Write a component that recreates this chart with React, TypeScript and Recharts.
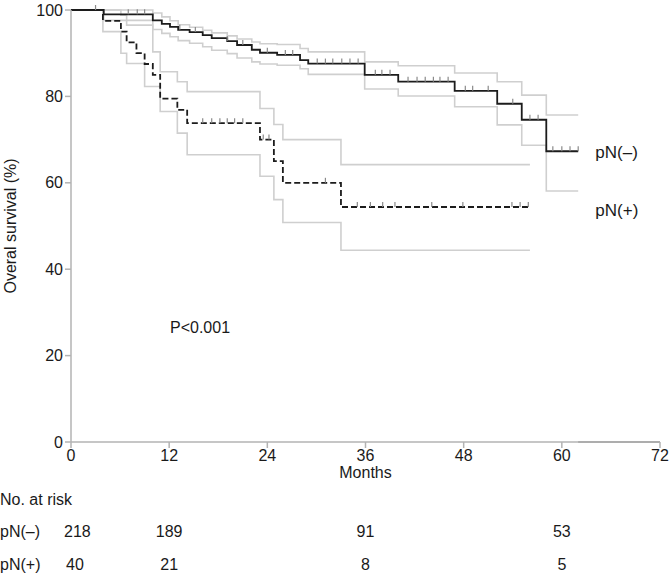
import React from "react";
import {
  ComposedChart,
  Line,
  Scatter,
  XAxis,
  YAxis,
  ReferenceDot,
  ReferenceLine
} from "recharts";

const monthTicks = [0, 12, 24, 36, 48, 60, 72];
const survivalTicks = [0, 20, 40, 60, 80, 100];

// pN(-) Kaplan-Meier curve with 95% CI
const negTimes = [0, 4, 10, 11.1, 12.1, 13.1, 14.5, 16.1, 17.2, 19.1, 20.3, 22.1, 23.1, 25.2, 28, 29, 35.9, 40, 46.9, 52.1, 55.1, 58.1, 62];
const negSurvival = [100, 99.0, 97.6, 96.8, 96.1, 95.4, 94.9, 94.2, 93.5, 92.8, 91.9, 90.8, 90.1, 89.6, 88.4, 87.6, 85.0, 83.4, 81.3, 78.3, 74.6, 67.3, 67.3];
const negUpper = [100, 100, 99.3, 98.4, 97.5, 96.6, 96.0, 95.3, 94.7, 94.0, 93.3, 92.6, 92.2, 92.0, 91.1, 90.3, 88.0, 87.1, 85.4, 83.4, 80.3, 75.7, 75.7];
const negLower = [100, 97.6, 95.5, 94.6, 93.8, 92.9, 92.3, 91.5, 90.7, 89.9, 88.9, 88.0, 87.5, 87.2, 86.4, 85.1, 81.7, 80.1, 77.6, 73.4, 68.7, 58.1, 58.1];
const negCensored = [3, 7, 8.1, 9, 13.3, 15.2, 19.1, 21, 24, 26.2, 27.1, 30.1, 31.1, 32, 33.1, 34.1, 35.1, 37.2, 38, 39, 41.2, 42.3, 43.3, 44.3, 45.1, 46.1, 48.2, 49.1, 51, 54, 56.1, 57.1, 58.9, 60, 61, 62];

// pN(+) Kaplan-Meier curve with 95% CI
const posTimes = [0, 3.9, 6.1, 6.8, 8.0, 9.0, 10.0, 10.9, 13.0, 14.2, 23.1, 24.8, 25.9, 33.0, 56.1];
const posSurvival = [100, 97.5, 95, 92.5, 90, 87.5, 85, 79.5, 76.9, 73.8, 70, 65, 60, 54.4, 54.4];
const posUpper = [100, 100, 98.8, 96.5, 96.5, 96.5, 90.3, 85.7, 83.4, 81.1, 77.2, 73.5, 70.0, 64.2, 64.2];
const posLower = [100, 95, 90, 87.6, 87.6, 82.3, 82.3, 76.5, 71.5, 66.5, 61.5, 56.1, 50.8, 44.4, 44.4];
const posCensored = [16.1, 17.2, 18.2, 19.1, 20, 21, 23.5, 24.2, 31.1, 35, 36.6, 38.1, 39.6, 44.1, 47.9, 53.9, 54.9, 55.9];

// number at risk
const riskTimes = [0, 12, 36, 60];
const riskNeg = [218, 189, 91, 53];
const riskPos = [40, 21, 8, 5];
const groupLabels = ["pN(–)", "pN(+)"];

// y levels (in survival units, below the axis) for the at-risk table
const ROW_HEAD = -13.4;
const ROW_NEG = -20.7;
const ROW_POS = -28.4;
const LEFT_EDGE = -8.68;

const FONT = "'Liberation Sans', Arial, Helvetica, sans-serif";
const TEXT = "#1a1a1a";
const AXIS = "#b3b3b3";
const CI = "#cfcfcf";

function toSteps(times: number[], values: number[]) {
  return times.map((t, i) => ({ t, s: values[i] }));
}

function censorPoints(times: number[], values: number[], censored: number[]) {
  return censored.map((c) => {
    let idx = 0;
    times.forEach((t, i) => {
      if (t <= c) idx = i;
    });
    return { t: c, s: values[idx] };
  });
}

const CensorTick = (p: any) => (
  <line x1={p.cx} x2={p.cx} y1={p.cy} y2={p.cy - 5} stroke="#8a8a8a" strokeWidth={1.2} />
);

function textDot(key: string, x: number, y: number, value: string | number, anchor: string, size = 16) {
  return (
    <ReferenceDot
      key={key}
      x={x}
      y={y}
      ifOverflow="visible"
      shape={(p: any) => (
        <text
          x={p.cx}
          y={p.cy}
          textAnchor={anchor}
          dominantBaseline="central"
          fontSize={size}
          fill={TEXT}
          fontFamily={FONT}
        >
          {value}
        </text>
      )}
    />
  );
}

export default function App() {
  const negCurve = toSteps(negTimes, negSurvival);
  const negUp = toSteps(negTimes, negUpper);
  const negLow = toSteps(negTimes, negLower);
  const posCurve = toSteps(posTimes, posSurvival);
  const posUp = toSteps(posTimes, posUpper);
  const posLow = toSteps(posTimes, posLower);

  return (
    <div style={{ position: "absolute", left: 0, top: 0, width: 670, height: 586, background: "#fff", fontFamily: FONT }}>
      <ComposedChart width={670} height={586} margin={{ top: 10, right: 10, bottom: 106, left: 0 }}>
        <XAxis
          dataKey="t"
          type="number"
          domain={[0, 72]}
          ticks={monthTicks}
          allowDecimals={false}
          height={38}
          stroke={AXIS}
          strokeWidth={1.5}
          tickSize={6}
          tickMargin={2}
          tick={{ fill: TEXT, fontSize: 16 }}
          label={{ value: "Months", position: "insideBottom", offset: 2, style: { fill: TEXT, fontSize: 16 } }}
        />
        <YAxis
          type="number"
          domain={[0, 100]}
          ticks={survivalTicks}
          width={71}
          stroke={AXIS}
          strokeWidth={1.5}
          tickSize={6}
          tickMargin={2}
          tick={{ fill: TEXT, fontSize: 16 }}
          label={{
            value: "Overal survival (%)",
            angle: -90,
            position: "insideLeft",
            offset: 10,
            style: { fill: TEXT, fontSize: 16, textAnchor: "middle" }
          }}
        />
        <ReferenceLine
          segment={[{ x: 62, y: 0 }, { x: 72, y: 0 }]}
          stroke="#9a9a9a"
          strokeWidth={2}
          ifOverflow="visible"
        />

        <Line data={negUp} dataKey="s" type="stepAfter" stroke={CI} strokeWidth={1.6} dot={false} isAnimationActive={false} />
        <Line data={negLow} dataKey="s" type="stepAfter" stroke={CI} strokeWidth={1.6} dot={false} isAnimationActive={false} />
        <Line data={posUp} dataKey="s" type="stepAfter" stroke={CI} strokeWidth={1.6} dot={false} isAnimationActive={false} />
        <Line data={posLow} dataKey="s" type="stepAfter" stroke={CI} strokeWidth={1.6} dot={false} isAnimationActive={false} />

        <Line data={negCurve} dataKey="s" type="stepAfter" stroke="#1c1c1c" strokeWidth={1.8} dot={false} isAnimationActive={false} />
        <Line
          data={posCurve}
          dataKey="s"
          type="stepAfter"
          stroke="#1c1c1c"
          strokeWidth={1.8}
          strokeDasharray="6 3"
          dot={false}
          isAnimationActive={false}
        />

        <Scatter data={censorPoints(negTimes, negSurvival, negCensored)} dataKey="s" shape={CensorTick} isAnimationActive={false} />
        <Scatter data={censorPoints(posTimes, posSurvival, posCensored)} dataKey="s" shape={CensorTick} isAnimationActive={false} />

        {textDot("p", 12.1, 26.6, "P<0.001", "start")}
        {textDot("gl0", 64.1, 67.1, groupLabels[0], "start", 17)}
        {textDot("gl1", 64.1, 53.5, groupLabels[1], "start", 17)}

        {textDot("head", LEFT_EDGE, ROW_HEAD, "No. at risk", "start")}
        {textDot("rl0", LEFT_EDGE, ROW_NEG, groupLabels[0], "start")}
        {textDot("rl1", LEFT_EDGE, ROW_POS, groupLabels[1], "start")}
        {riskTimes.map((t, i) =>
          textDot(`rn${i}`, i === 0 ? t - 0.85 : t, ROW_NEG, riskNeg[i], i === 0 ? "start" : "middle")
        )}
        {riskTimes.map((t, i) =>
          textDot(`rp${i}`, i === 0 ? t - 0.6 : t, ROW_POS, riskPos[i], i === 0 ? "start" : "middle")
        )}
      </ComposedChart>
    </div>
  );
}
